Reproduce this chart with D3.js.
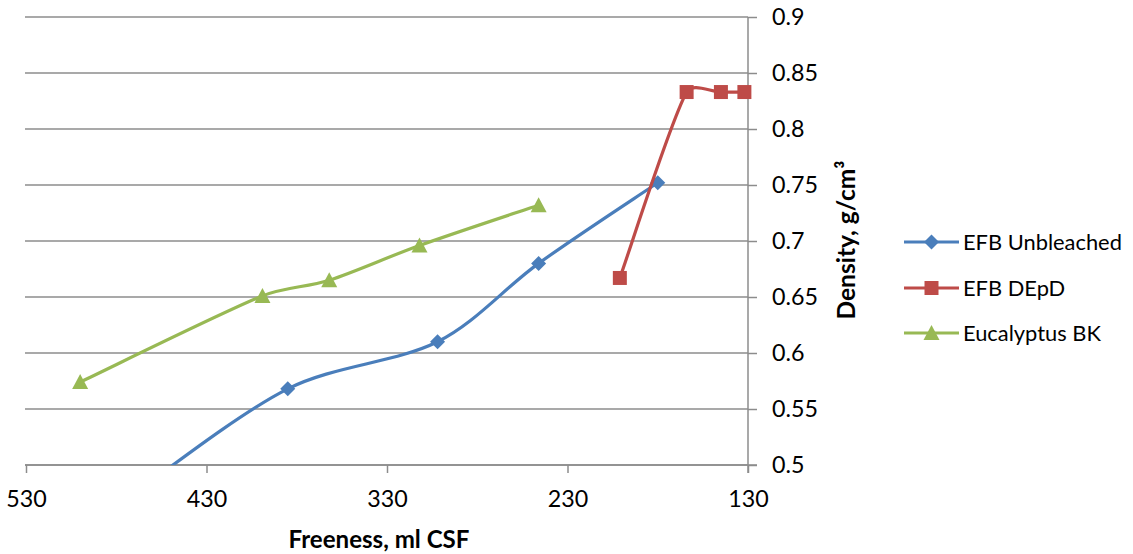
<!DOCTYPE html>
<html>
<head>
<meta charset="utf-8">
<script src="https://cdn.jsdelivr.net/npm/d3@7"></script>
<style>
  html, body { margin: 0; padding: 0; background: #fff; }
  svg { display: block; }
  text { font-family: Lato, "Open Sans", sans-serif; fill: #000; }
</style>
</head>
<body>
<svg id="chart" width="1133" height="554"></svg>
<script>
// ---- data ----
const seriesNames = ["EFB Unbleached", "EFB DEpD", "Eucalyptus BK"];
const freenessUnbleached = [474, 385, 302, 246, 180];
const densityUnbleached  = [0.47, 0.568, 0.61, 0.68, 0.752];
const freenessDEpD = [201, 164, 145, 132];
const densityDEpD  = [0.667, 0.833, 0.833, 0.833];
const freenessEuc = [500, 399, 362, 312, 246];
const densityEuc  = [0.574, 0.651, 0.665, 0.696, 0.732];
const xTicks = [530, 430, 330, 230, 130];
const yTicks = [0.5, 0.55, 0.6, 0.65, 0.7, 0.75, 0.8, 0.85, 0.9];
const xTitle = "Freeness, ml CSF";
const yTitle = "Density, g/cm³";

// ---- layout ----
const svg = d3.select("#chart");
const pLeft = 26, pRight = 748, pTop = 17, pBottom = 465;
const x = d3.scaleLinear().domain([530, 130]).range([pLeft, pRight]);
const y = d3.scaleLinear().domain([0.5, 0.9]).range([pBottom, pTop]);
const gridColor = "#8c8c8c";

// text size fitting
function fitSize(str, weight, target) {
  const t = svg.append("text").attr("font-size", 100).attr("font-weight", weight).text(str);
  const w = t.node().getComputedTextLength();
  t.remove();
  return 100 * target / w;
}
const tickSize = fitSize("0.85", "normal", 46);
const legSize = fitSize("EFB Unbleached", "normal", 159);
const xTitleSize = fitSize(xTitle, "bold", 181);
const yTitleSize = fitSize(yTitle, "bold", 159);

// gridlines
svg.append("g").selectAll("line").data(yTicks).join("line")
  .attr("x1", pLeft - 1).attr("x2", pRight)
  .attr("y1", d => y(d)).attr("y2", d => y(d))
  .attr("stroke", gridColor).attr("stroke-width", 1.5);

// right y axis
const yAxis = d3.axisRight(y).tickValues(yTicks).tickSize(9).tickPadding(15)
  .tickFormat(d => String(+d.toFixed(2)));
const gy = svg.append("g").attr("transform", `translate(${pRight},0)`).call(yAxis);
gy.select(".domain").attr("stroke", gridColor).attr("stroke-width", 1.5)
  .attr("d", `M0,${pTop}V${pBottom + 8}`);
gy.selectAll(".tick line").attr("stroke", gridColor).attr("stroke-width", 1.5);
gy.selectAll(".tick text").attr("font-size", tickSize).attr("font-family", "Lato").attr("fill", "#000")
  .attr("x", 24).attr("dy", "0.34em");

// bottom x axis
const xAxis = d3.axisBottom(x).tickValues(xTicks).tickSize(8).tickPadding(10).tickFormat(d3.format("d"));
const gx = svg.append("g").attr("transform", `translate(0,${pBottom})`).call(xAxis);
gx.select(".domain").attr("stroke", gridColor).attr("stroke-width", 1.5)
  .attr("d", `M${pLeft - 1},0H${pRight + 9}`);
gx.selectAll(".tick line").attr("stroke", gridColor).attr("stroke-width", 1.5);
gx.selectAll(".tick text").attr("font-size", tickSize).attr("font-family", "Lato").attr("fill", "#000")
  .attr("y", 0).attr("dy", 0).attr("transform", "translate(0,42)");

// titles
svg.append("text").attr("x", 379).attr("y", 548).attr("text-anchor", "middle")
  .attr("font-weight", "bold").attr("font-size", xTitleSize).text(xTitle);
svg.append("text").attr("transform", "translate(855,240) rotate(-90)").attr("text-anchor", "middle")
  .attr("font-weight", "bold").attr("font-size", yTitleSize).text(yTitle);

// clip
svg.append("clipPath").attr("id", "plotclip").append("rect")
  .attr("x", pLeft).attr("y", pTop).attr("width", pRight - pLeft).attr("height", pBottom - pTop);

const series = [
  { name: seriesNames[0], xs: freenessUnbleached, ys: densityUnbleached, color: "#4A7EBB", marker: "diamond" },
  { name: seriesNames[1], xs: freenessDEpD, ys: densityDEpD, color: "#BE4B48", marker: "square" },
  { name: seriesNames[2], xs: freenessEuc, ys: densityEuc, color: "#98B954", marker: "triangle" }
];

function markerPath(type) {
  if (type === "diamond") return "M0,-7.5L7.5,0L0,7.5L-7.5,0Z";
  if (type === "square") return "M-7,-7H7V7H-7Z";
  return "M0,-8L8,7H-8Z";
}

// Excel-like smoothed line: Catmull-Rom Bezier tangents, control length capped by segment length
function smoothPath(data) {
  const P = data.map(d => [x(d[0]), y(d[1])]);
  const n = P.length;
  const dist = (a, b) => Math.hypot(b[0] - a[0], b[1] - a[1]);
  const outC = [], inC = [];
  for (let i = 0; i < n; i++) {
    if (i === 0 || i === n - 1) {
      const q = i === 0 ? P[1] : P[n - 2];
      const c = [P[i][0] + (q[0] - P[i][0]) / 6, P[i][1] + (q[1] - P[i][1]) / 6];
      outC[i] = c; inC[i] = c;
    } else {
      const T = [P[i + 1][0] - P[i - 1][0], P[i + 1][1] - P[i - 1][1]];
      const tl = Math.hypot(T[0], T[1]);
      const dA = dist(P[i - 1], P[i]), dB = dist(P[i], P[i + 1]);
      const fo = Math.min(1 / 6, dB / 3 / tl), fi = Math.min(1 / 6, dA / 3 / tl);
      outC[i] = [P[i][0] + T[0] * fo, P[i][1] + T[1] * fo];
      inC[i] = [P[i][0] - T[0] * fi, P[i][1] - T[1] * fi];
    }
  }
  const p = d3.path();
  p.moveTo(P[0][0], P[0][1]);
  for (let i = 0; i < n - 1; i++) {
    p.bezierCurveTo(outC[i][0], outC[i][1], inC[i + 1][0], inC[i + 1][1], P[i + 1][0], P[i + 1][1]);
  }
  return p.toString();
}

series.forEach(s => {
  const pts = s.xs.map((v, i) => [v, s.ys[i]]);
  svg.append("path").datum(pts).attr("d", smoothPath)
    .attr("fill", "none").attr("stroke", s.color).attr("stroke-width", 3.2)
    .attr("stroke-linejoin", "round").attr("clip-path", "url(#plotclip)");
  svg.append("g").selectAll("path")
    .data(pts.filter(p => p[1] >= 0.5 && p[1] <= 0.9 && p[0] <= 530 && p[0] >= 130))
    .join("path")
    .attr("transform", p => `translate(${x(p[0])},${y(p[1])})`)
    .attr("d", markerPath(s.marker)).attr("fill", s.color);
});

// legend
const legend = svg.append("g");
const legY = [242, 288, 333];
series.forEach((s, i) => {
  const g = legend.append("g").attr("transform", `translate(0,${legY[i]})`);
  g.append("line").attr("x1", 904).attr("x2", 959).attr("y1", 0).attr("y2", 0)
    .attr("stroke", s.color).attr("stroke-width", 3.2);
  g.append("path").attr("transform", "translate(931.5,0)").attr("d", markerPath(s.marker)).attr("fill", s.color);
  g.append("text").attr("x", 963).attr("y", 0).attr("dy", "0.35em")
    .attr("font-size", legSize).text(s.name);
});
</script>
</body>
</html>
